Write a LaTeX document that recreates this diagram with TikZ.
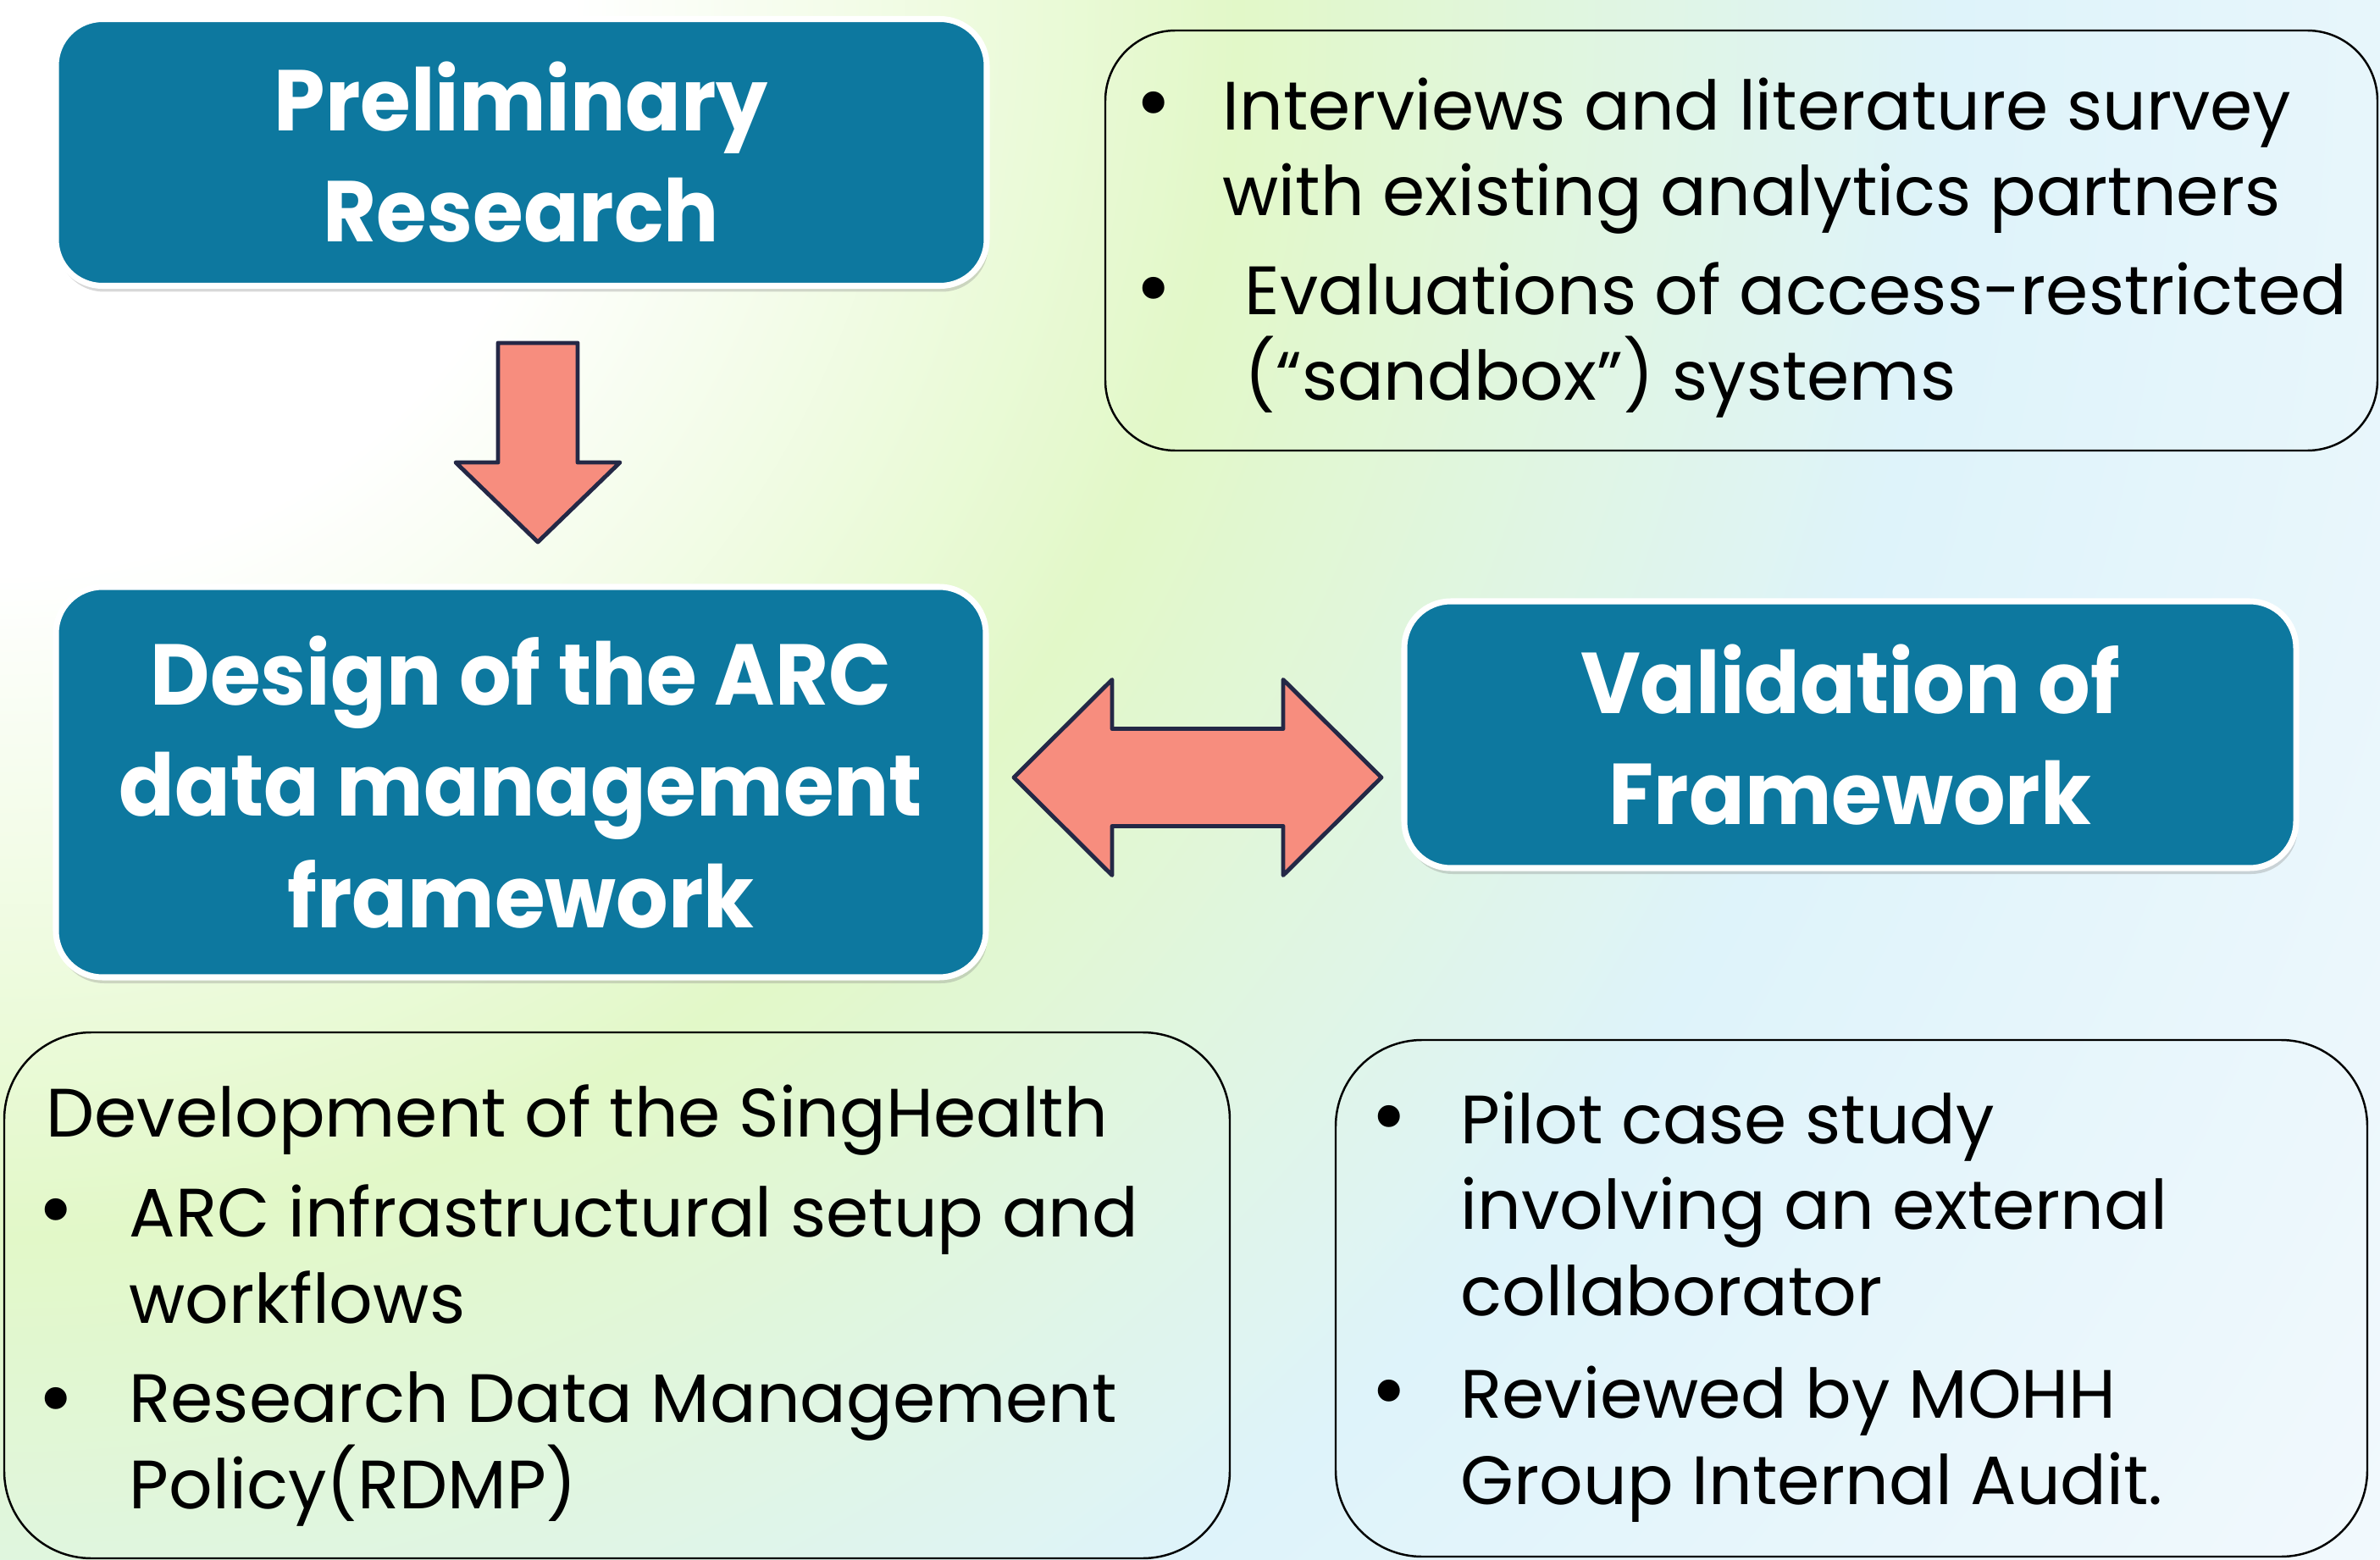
\documentclass[tikz,border=0pt]{standalone}
\usepackage{fontspec}
\setmainfont{Poppins}
\newfontfamily\headfamily{Poppins}[FakeStretch=0.95]
\usetikzlibrary{shadows}
\definecolor{stageblue}{RGB}{13,120,159}
\definecolor{arrowfill}{RGB}{247,141,126}
\definecolor{arrowline}{RGB}{36,40,70}
\definecolor{bggreen}{RGB}{226,248,200}
\definecolor{bgblue}{RGB}{222,243,250}
\definecolor{bgpale}{RGB}{242,249,253}
\pgfdeclareradialshading{bgshade}{\pgfpointorigin}{color(0bp)=(white); color(6bp)=(white); color(13bp)=(bggreen); color(20.5bp)=(bgblue); color(30bp)=(bgpale); color(50bp)=(bgpale)}
\newcommand\headfont{\headfamily\fontsize{29pt}{37.3pt}\selectfont\bfseries}
\newcommand\notefont{\fontsize{23pt}{28.8pt}\selectfont}
\newcommand\dotfont{\fontsize{30pt}{30pt}\selectfont}
\tikzset{
  stage/.style={draw=white, line width=2pt, fill=stageblue, rounded corners=0.55cm,
    text=white, align=center, font=\headfont,
    drop shadow={shadow xshift=0.02cm, shadow yshift=-0.07cm, opacity=0.3}},
  notebox/.style={draw=black, line width=0.7pt},
  blockarrow/.style={draw=arrowline, line width=1.4pt, fill=arrowfill, line join=round},
  notetext/.style={anchor=base west, align=left, inner sep=0pt, font=\notefont},
  bulletmark/.style={anchor=base, inner sep=0pt, font=\dotfont}
}
\begin{document}
\begin{tikzpicture}
	%%%%% BACKGROUND %%%%%
	\useasboundingbox (0,0) rectangle (28.10,-18.42);
	\begin{scope}
		\clip (0,0) rectangle (28.10,-18.42);
		\shade[shading=bgshade] (-28.10,28.10) rectangle (28.10,-28.10);
	\end{scope}
	
	%%%%% STAGES %%%%%
	\node[stage, minimum width=10.99cm, minimum height=3.15cm] (prelim) at (6.155,-1.80) {Preliminary\\Research};
	\node[stage, minimum width=10.98cm, minimum height=4.61cm] (design) at (6.15,-9.235) {Design of the ARC\\data management\\framework};
	\node[stage, minimum width=10.53cm, minimum height=3.15cm] (valid) at (21.845,-8.675) {Validation of\\Framework};
	
	%%%%% ARROWS %%%%%
	\coordinate (down) at (6.35,-5.225);
	\draw[blockarrow, shift={(down)}] (-0.47,1.175) -- (0.47,1.175) -- (0.47,-0.235) -- (0.97,-0.235)
		-- (0,-1.175) -- (-0.97,-0.235) -- (-0.47,-0.235) -- cycle;
	\coordinate (link) at (14.14,-9.18);
	\draw[blockarrow, shift={(link)}] (-2.17,0) -- (-1.01,1.155) -- (-1.01,0.575) -- (1.01,0.575) -- (1.01,1.155)
		-- (2.17,0) -- (1.01,-1.155) -- (1.01,-0.575) -- (-1.01,-0.575) -- (-1.01,-1.155) -- cycle;
	
	%%%%% NOTES %%%%%
	\node[notebox, rounded corners=0.83cm, minimum width=15.02cm, minimum height=4.96cm] (survey) at (20.56,-2.84) {};
	\node[bulletmark] (survey-b1) at (13.62,-1.57) {•};
	\node[notetext] (survey-t1) at (14.43,-2.55) {Interviews and literature survey\\with existing analytics partners};
	\node[bulletmark] (survey-b2) at (13.62,-3.76) {•};
	\node[notetext] (survey-t2) at (14.69,-4.73) {Evaluations of access-restricted\\(“sandbox”) systems};
	
	\node[notebox, rounded corners=1.03cm, minimum width=14.47cm, minimum height=6.21cm] (develop) at (7.285,-15.295) {};
	\node[notetext] (develop-t0) at (0.54,-13.42) {Development of the SingHealth};
	\node[bulletmark] (develop-b1) at (0.66,-14.63) {•};
	\node[notetext] (develop-t1) at (1.52,-15.62) {ARC infrastructural setup and\\workflows};
	\node[bulletmark] (develop-b2) at (0.66,-16.86) {•};
	\node[notetext] (develop-t2) at (1.52,-17.81) {Research Data Management\\Policy(RDMP)};
	
	\node[notebox, rounded corners=1.02cm, minimum width=12.18cm, minimum height=6.10cm] (pilot) at (21.86,-15.33) {};
	\node[bulletmark] (pilot-b1) at (16.40,-13.53) {•};
	\node[notetext] (pilot-t1) at (17.24,-15.53) {Pilot case study\\involving an external\\collaborator};
	\node[bulletmark] (pilot-b2) at (16.40,-16.77) {•};
	\node[notetext] (pilot-t2) at (17.24,-17.76) {Reviewed by MOHH\\Group Internal Audit.};
\end{tikzpicture}
\end{document}
